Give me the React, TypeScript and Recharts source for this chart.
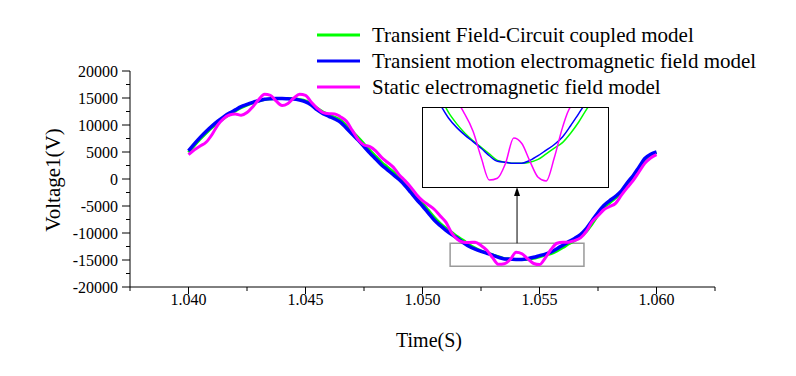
import { LineChart, Line, XAxis, YAxis, ReferenceArea, ReferenceLine, Legend } from 'recharts';

// time grid (s)
const times = [
  1.04, 1.04025, 1.0405, 1.04075, 1.041, 1.04125, 1.0415, 1.04175, 1.042, 1.04225,
  1.0425, 1.04275, 1.043, 1.04325, 1.0435, 1.04375, 1.044, 1.04425, 1.0445, 1.04475,
  1.045, 1.04525, 1.0455, 1.04575, 1.046, 1.04625, 1.0465, 1.04675, 1.047, 1.04725,
  1.0475, 1.04775, 1.048, 1.04825, 1.0485, 1.04875, 1.049, 1.04925, 1.0495, 1.04975,
  1.05, 1.05025, 1.0505, 1.05075, 1.051, 1.05125, 1.0515, 1.05175, 1.052, 1.05225,
  1.0525, 1.05275, 1.053, 1.05325, 1.0535, 1.05375, 1.054, 1.05425, 1.0545, 1.05475,
  1.055, 1.05525, 1.0555, 1.05575, 1.056, 1.05625, 1.0565, 1.05675, 1.057, 1.05725,
  1.0575, 1.05775, 1.058, 1.05825, 1.0585, 1.05875, 1.059, 1.05925, 1.0595, 1.05975,
  1.06,
];

// Transient Field-Circuit coupled model (green)
const coupledModel = [
  4900, 6200, 7400, 8500, 9500, 10400, 11200, 11950, 12600, 13200,
  13700, 14100, 14450, 14700, 14850, 14900, 14900, 14900, 14850, 14700,
  14450, 13900, 13100, 12400, 11900, 11400, 10900, 9900, 8800, 7700,
  6500, 5300, 4200, 3100, 2200, 1300, 400, -700, -2000, -3300,
  -4500, -5800, -7100, -8200, -9100, -9900, -10700, -11400, -12200, -12800,
  -13300, -13700, -14050, -14400, -14750, -14850, -14900, -14900, -14850, -14700,
  -14400, -14100, -13800, -13300, -12700, -12000, -11400, -10700, -9700, -8300,
  -6700, -5300, -4400, -3500, -2500, -1100, 300, 1900, 3500, 4400,
  4900,
];

// Transient motion electromagnetic field model (blue)
const motionModel = [
  5200, 6500, 7700, 8800, 9800, 10700, 11500, 12200, 12800, 13400,
  13800, 14200, 14500, 14750, 14850, 14900, 14900, 14850, 14800, 14600,
  14300, 13700, 12800, 12100, 11600, 11100, 10500, 9400, 8300, 7200,
  6000, 4800, 3700, 2600, 1700, 800, -100, -1200, -2500, -3800,
  -5000, -6300, -7600, -8600, -9500, -10300, -11000, -11800, -12500, -13000,
  -13400, -13750, -14100, -14500, -14800, -14850, -14900, -14900, -14750, -14500,
  -14200, -13900, -13500, -12900, -12250, -11600, -11000, -10300, -9200, -7700,
  -6200, -4900, -4000, -3200, -2200, -700, 600, 2200, 3800, 4600,
  5000,
];

// Static electromagnetic field model (magenta)
const staticModel = [
  4500, 5400, 6100, 6800, 8200, 10000, 11200, 11850, 12050, 11800,
  12300, 13400, 14700, 15700, 15500, 14400, 13600, 14000, 15000, 15700,
  15500, 14200, 13100, 12300, 12100, 12050, 11500, 10700, 9000, 7300,
  6300, 6000, 5200, 4000, 3100, 2200, 800, -300, -1500, -2900,
  -4000, -4800, -5600, -6800, -8000, -10000, -11200, -11700, -11750, -11700,
  -12300, -13200, -14600, -15800, -15700, -14900, -13550, -13850, -14800, -15650,
  -15850, -14600, -13000, -11900, -11700, -11700, -11400, -10900, -9700, -7900,
  -6800, -5700, -5100, -4500, -3000, -1600, -300, 1300, 2900, 3900,
  4500,
];

const seriesKeys = ['coupled', 'motion', 'stat'];
const seriesNames = [
  'Transient Field-Circuit coupled model',
  'Transient motion electromagnetic field model',
  'Static electromagnetic field model',
];
const seriesColors = ['#00ff00', '#0000ff', '#ff00ff'];

const xMajorTicks = [1.04, 1.045, 1.05, 1.055, 1.06];
const xMinorTicks = [1.0375, 1.0425, 1.0475, 1.0525, 1.0575, 1.0625];
const yMajorTicks = [-20000, -15000, -10000, -5000, 0, 5000, 10000, 15000, 20000];
const yMinorTicks = [-17500, -12500, -7500, -2500, 2500, 7500, 12500, 17500];

// zoom window shown in the inset
const zoomTime = [1.05118, 1.0569];
const zoomVolt = [-16170, -11900];
const arrowTime = 1.05404;
const arrowTop = -1490;

const FONT = '"Liberation Serif", "Times New Roman", serif';

const data = times.map((t, i) => ({
  t,
  coupled: coupledModel[i],
  motion: motionModel[i],
  stat: staticModel[i],
}));
const insetData = data.filter(d => d.t >= 1.0505 && d.t <= 1.0575);

const isIn = (arr: number[], v: number) => arr.some(a => Math.abs(a - v) < 1e-7);

function XTick(props: any) {
  const { x, y, payload } = props;
  const major = isIn(xMajorTicks, payload.value);
  return (
    <g>
      <line x1={x} x2={x} y1={y} y2={y + (major ? 7 : 4)} stroke="#000" strokeWidth={1} />
      {major && (
        <text x={x} y={y + 18} textAnchor="middle" fontSize={16} fontFamily={FONT} fill="#000">
          {payload.value.toFixed(3)}
        </text>
      )}
    </g>
  );
}

function YTick(props: any) {
  const { x, y, payload } = props;
  const major = isIn(yMajorTicks, payload.value);
  return (
    <g>
      <line x1={x - (major ? 8 : 4)} x2={x} y1={y} y2={y} stroke="#000" strokeWidth={1} />
      {major && (
        <text x={x - 12} y={y} dy="0.35em" textAnchor="end" fontSize={16} fontFamily={FONT} fill="#000">
          {payload.value}
        </text>
      )}
    </g>
  );
}

const ArrowShape = (p: any) => {
  const top = Math.min(p.y1, p.y2);
  const bottom = Math.max(p.y1, p.y2);
  return (
    <g>
      <line x1={p.x1} x2={p.x1} y1={bottom} y2={top + 6} stroke="#000" strokeWidth={1} />
      <path d={`M${p.x1},${top} l-3,9 l6,0 z`} fill="#000" />
    </g>
  );
};

const renderLegend = () => (
  <div style={{ fontFamily: FONT, fontSize: 21, color: '#000' }}>
    {seriesNames.map((n, i) => (
      <div key={n} style={{ display: 'flex', alignItems: 'center', height: 26 }}>
        <svg width={43} height={4} style={{ marginRight: 12 }}>
          <line x1={0} x2={43} y1={2} y2={2} stroke={seriesColors[i]} strokeWidth={3} />
        </svg>
        <span style={{ lineHeight: '26px', whiteSpace: 'nowrap' }}>{n}</span>
      </div>
    ))}
  </div>
);

export default function App() {
  return (
    <div style={{ position: 'absolute', left: 0, top: 0, width: 796, height: 376, background: '#fff' }}>
      <LineChart width={796} height={376} data={data} margin={{ top: 71, right: 81, bottom: 27, left: 60 }}>
        <XAxis
          dataKey="t"
          type="number"
          domain={[1.0375, 1.0625]}
          ticks={[...xMinorTicks, ...xMajorTicks].sort((a, b) => a - b)}
          interval={0}
          height={62}
          tickSize={0}
          tickMargin={0}
          tickLine={false}
          axisLine={{ stroke: '#000', strokeWidth: 1 }}
          tick={(p: any) => <XTick {...p} />}
          label={() => (
            <text x={429} y={347} textAnchor="middle" fontSize={20} fontFamily={FONT} fill="#000">
              Time(S)
            </text>
          )}
        />
        <YAxis
          type="number"
          domain={[-20000, 20000]}
          ticks={[...yMinorTicks, ...yMajorTicks].sort((a, b) => a - b)}
          interval={0}
          width={70}
          tickSize={0}
          tickMargin={0}
          tickLine={false}
          axisLine={{ stroke: '#000', strokeWidth: 1 }}
          tick={(p: any) => <YTick {...p} />}
          label={() => (
            <text
              x={53}
              y={180}
              textAnchor="middle"
              dy="0.35em"
              transform="rotate(-90, 53, 180)"
              fontSize={21}
              fontFamily={FONT}
              fill="#000"
            >
              Voltage1(V)
            </text>
          )}
        />
        <Legend
          layout="vertical"
          align="center"
          verticalAlign="middle"
          content={renderLegend}
          wrapperStyle={{ left: 317, top: 22, width: 'auto' }}
        />
        <ReferenceArea
          x1={zoomTime[0]}
          x2={zoomTime[1]}
          y1={zoomVolt[0]}
          y2={zoomVolt[1]}
          fill="#ffffff"
          fillOpacity={0}
          stroke="#9a9a9a"
          strokeWidth={1.5}
        />
        <ReferenceLine
          segment={[{ x: arrowTime, y: zoomVolt[1] }, { x: arrowTime, y: arrowTop }]}
          stroke="#000"
          shape={ArrowShape}
        />
        {seriesKeys.map((k, i) => (
          <Line
            key={k}
            type="monotone"
            dataKey={k}
            name={seriesNames[i]}
            stroke={seriesColors[i]}
            strokeWidth={k === 'motion' ? 3.5 : 3}
            dot={false}
            isAnimationActive={false}
          />
        ))}
      </LineChart>

      <div style={{ position: 'absolute', left: 422, top: 107, width: 186, height: 80, background: '#fff' }}>
        <LineChart width={186} height={80} data={insetData} margin={{ top: 0, right: 0, bottom: 0, left: 0 }}>
          <XAxis dataKey="t" type="number" domain={zoomTime} allowDataOverflow hide />
          <YAxis type="number" domain={zoomVolt} allowDataOverflow hide />
          {seriesKeys.map((k, i) => (
            <Line
              key={k}
              type="monotone"
              dataKey={k}
              stroke={seriesColors[i]}
              strokeWidth={1.5}
              dot={false}
              isAnimationActive={false}
            />
          ))}
        </LineChart>
      </div>
      <div
        style={{
          position: 'absolute',
          left: 422,
          top: 107,
          width: 187,
          height: 81,
          border: '1px solid #000',
          boxSizing: 'border-box',
          pointerEvents: 'none',
        }}
      />
    </div>
  );
}
